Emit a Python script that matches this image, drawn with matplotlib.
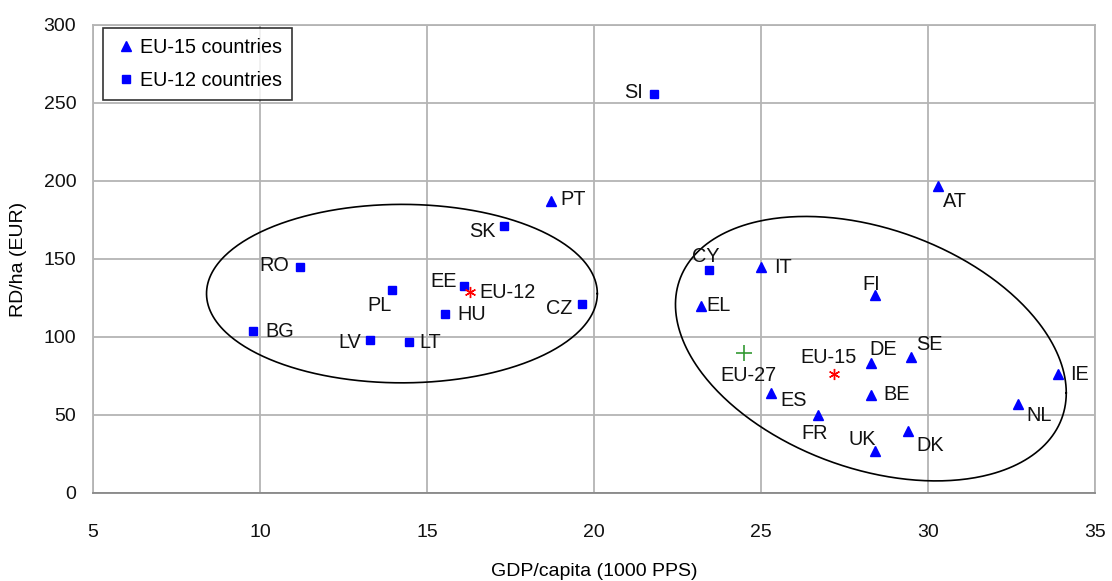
import numpy as np
import matplotlib.pyplot as plt

plt.rcParams['font.family'] = ['Liberation Sans', 'DejaVu Sans']

# --- EU-15 countries (triangles) ---
eu15_names = ["PT", "AT", "IT", "FI", "EL", "DE", "SE", "IE", "BE", "ES", "NL", "FR", "DK", "UK"]
eu15_gdp = [18.7, 30.3, 25.0, 28.4, 23.2, 28.3, 29.5, 33.9, 28.3, 25.3, 32.7, 26.7, 29.4, 28.4]
eu15_rd = [187, 197, 145, 127, 120, 83, 87, 76, 63, 64, 57, 50, 40, 27]

# --- EU-12 countries (squares) ---
eu12_names = ["SI", "SK", "RO", "EE", "PL", "CZ", "HU", "BG", "LV", "LT", "CY"]
eu12_gdp = [21.8, 17.3, 11.2, 16.1, 13.95, 19.65, 15.55, 9.8, 13.3, 14.45, 23.45]
eu12_rd = [256, 171, 145, 133, 130, 121, 115, 104, 98, 97, 143]

# --- averages ---
avg_names = ["EU-12", "EU-15", "EU-27"]
avg_gdp = [16.3, 27.2, 24.5]
avg_rd = [129, 76, 90]

# label offsets (pixels) and alignment
offsets = {
    "PT": (10, 2, "left"), "AT": (5, -16, "left"), "IT": (13, -1, "left"),
    "FI": (-3, 10, "center"), "EL": (6, 0, "left"), "DE": (-2, 14, "left"),
    "SE": (5, 13, "left"), "IE": (12, 0, "left"), "BE": (12, 0, "left"),
    "ES": (9, -7, "left"), "NL": (8, -11, "left"), "FR": (-3, -19, "center"),
    "DK": (8, -15, "left"), "UK": (1, 11, "right"),
    "SI": (-11, 1, "right"), "SK": (-8, -5, "right"), "RO": (-11, 1, "right"),
    "EE": (-7, 4, "right"), "PL": (0, -15, "right"), "CZ": (-10, -4, "right"),
    "HU": (12, -1, "left"), "BG": (12, -1, "left"), "LV": (-9, -2, "right"),
    "LT": (11, -1, "left"), "CY": (-3, 13, "center"),
    "EU-12": (9, -1, "left"), "EU-15": (-6, 17, "center"), "EU-27": (4, -23, "center"),
}

fig = plt.figure(figsize=(11.12, 5.81), dpi=100)
ax = fig.add_axes([0.0836, 0.1515, 0.9011, 0.8055])

ax.plot(eu15_gdp, eu15_rd, "^", color="#0000ff", markersize=6.5, linestyle="none",
        label="EU-15 countries", zorder=3)
ax.plot(eu12_gdp, eu12_rd, "s", color="#0000ff", markersize=5.5, linestyle="none",
        label="EU-12 countries", zorder=3)
ax.plot(avg_gdp[:2], avg_rd[:2], marker=(6, 2, 0), color="#ff0000", markersize=8,
        markeredgewidth=1.0, linestyle="none", zorder=3)
ax.plot(avg_gdp[2:], avg_rd[2:], "+", color="#339933", markersize=11,
        markeredgewidth=1.2, linestyle="none", zorder=3)

for names, xs, ys in [(eu15_names, eu15_gdp, eu15_rd), (eu12_names, eu12_gdp, eu12_rd),
                      (avg_names, avg_gdp, avg_rd)]:
    for n, x, y in zip(names, xs, ys):
        dx, dy, ha = offsets[n]
        ax.annotate(n, (x, y), xytext=(dx, dy), textcoords="offset pixels",
                    ha=ha, va="center", fontsize=14.3, color="#111111", zorder=4)

# ellipses
t = np.linspace(0, 2 * np.pi, 400)
# EU-12 group, axis aligned
c1 = (14.25, 127.8)
ax.plot(c1[0] + 5.85 * np.cos(t), c1[1] + 57.2 * np.sin(t), color="black", lw=1.2, zorder=2)
# EU-15 group, tilted (conjugate semi-diameters)
c2 = (28.29, 92.5)
u = (5.85, -28.3)
v = (0.0, 79.9)
ax.plot(c2[0] + u[0] * np.cos(t) + v[0] * np.sin(t),
        c2[1] + u[1] * np.cos(t) + v[1] * np.sin(t), color="black", lw=1.2, zorder=2)

ax.set_xlim(5, 35)
ax.set_ylim(0, 300)
ax.set_xticks(range(5, 36, 5))
ax.set_yticks(range(0, 301, 50))
ax.grid(True, color="#b4b4b4", lw=1.3)
ax.set_axisbelow(True)
for s in ax.spines.values():
    s.set_color("#b4b4b4")
    s.set_linewidth(1.3)
ax.spines["bottom"].set_color("#888888")
ax.tick_params(length=0, labelsize=14, pad=12, colors="#111111")
ax.tick_params(axis="x", pad=22)
ax.set_xlabel("GDP/capita (1000 PPS)", fontsize=14, labelpad=16)
ax.set_ylabel("RD/ha (EUR)", fontsize=14, labelpad=12)

leg = ax.legend(loc="upper left", fontsize=14.2, frameon=True, fancybox=False,
                edgecolor="black", handletextpad=0.1, handlelength=1.3,
                borderpad=0.5, labelspacing=0.7, borderaxespad=0,
                bbox_to_anchor=(0.01, 0.9936))
leg.get_frame().set_linewidth(1.2)

fig.savefig("out.png", dpi=100)
